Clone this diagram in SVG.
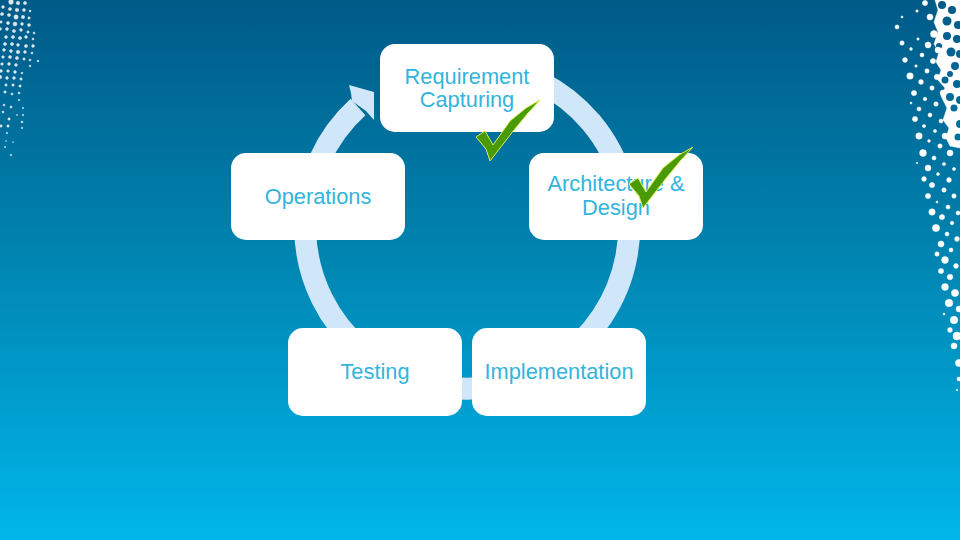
<svg xmlns="http://www.w3.org/2000/svg" width="960" height="540" viewBox="0 0 960 540">
<style>
.box{fill:#fff}
.lbl{font-family:"Liberation Sans",Arial,sans-serif;font-size:21.8px;fill:#33b4dc;text-anchor:middle}
.chk{fill:#4a9a06;stroke:#d8ee50;stroke-width:1}
.d{fill:#fff;stroke:#fff;stroke-width:.5}
.l{fill:#fff;stroke:#fff;stroke-width:.5;opacity:.85}
.h{fill:url(#bgu)}
</style>
<defs>
<linearGradient id="bg" x1="0" y1="0" x2="0" y2="1">
<stop offset="0" stop-color="#005a88"/>
<stop offset=".45" stop-color="#0082ae"/>
<stop offset="1" stop-color="#00b6ea"/>
</linearGradient>
<linearGradient id="bgu" gradientUnits="userSpaceOnUse" x1="0" y1="0" x2="0" y2="540">
<stop offset="0" stop-color="#005a88"/>
<stop offset=".45" stop-color="#0082ae"/>
<stop offset="1" stop-color="#00b6ea"/>
</linearGradient>
<filter id="soft" x="-10%" y="-10%" width="120%" height="120%"><feGaussianBlur stdDeviation=".5"/></filter>
<path id="c" d="M0 37L9 31L17 45L34 21L50 8L64 0L52 13L38 30L14 61L10 49Z"/>
</defs>
<rect width="960" height="540" fill="url(#bg)"/>
<g id="dots-left" filter="url(#soft)">
<circle class="l" cx="11" cy="2" r="2.4"/><circle class="l" cx="18" cy="3" r="1.8"/><circle class="l" cx="25" cy="3" r="1.6"/>
<circle class="l" cx="3" cy="7" r="1.4"/><circle class="l" cx="10" cy="9" r="1.6"/><circle class="l" cx="17" cy="10" r="1.8"/><circle class="l" cx="24" cy="10" r="1.5"/><circle class="l" cx="30" cy="11" r="1"/>
<circle class="l" cx="2" cy="14" r="1.6"/><circle class="l" cx="9" cy="15" r="1.6"/><circle class="l" cx="16" cy="17" r="2.2"/><circle class="l" cx="23" cy="17" r="1.7"/><circle class="l" cx="29" cy="18" r="1.2"/>
<circle class="l" cx="1" cy="22" r="1.2"/><circle class="l" cx="8" cy="23" r="1.6"/><circle class="l" cx="15" cy="24" r="2"/><circle class="l" cx="22" cy="24" r="1.4"/><circle class="l" cx="29" cy="25" r="1.5"/>
<circle class="l" cx="0" cy="29" r="1.4"/><circle class="l" cx="7" cy="29" r="1.5"/><circle class="l" cx="14" cy="31" r="1.6"/><circle class="l" cx="21" cy="30" r="1.4"/><circle class="l" cx="28" cy="32" r="1.2"/><circle class="l" cx="34" cy="33" r="1"/>
<circle class="l" cx="6" cy="37" r="1.5"/><circle class="l" cx="13" cy="37" r="1.6"/><circle class="l" cx="20" cy="38" r="1.6"/><circle class="l" cx="26" cy="37" r="1.4"/><circle class="l" cx="33" cy="39" r="1"/>
<circle class="l" cx="5" cy="44" r="1.6"/><circle class="l" cx="12" cy="44" r="1.6"/><circle class="l" cx="18" cy="45" r="1.4"/><circle class="l" cx="26" cy="46" r="1.6"/><circle class="l" cx="33" cy="46" r="1.4"/>
<circle class="l" cx="4" cy="50" r="1.4"/><circle class="l" cx="11" cy="51" r="1.5"/><circle class="l" cx="18" cy="52" r="1.8"/><circle class="l" cx="25" cy="52" r="1.4"/><circle class="l" cx="32" cy="53" r="1"/>
<circle class="l" cx="3" cy="57" r="1.3"/><circle class="l" cx="10" cy="57" r="1.5"/><circle class="l" cx="17" cy="58" r="1.6"/><circle class="l" cx="24" cy="59" r="1.2"/><circle class="l" cx="30" cy="60" r="1"/><circle class="l" cx="38" cy="61" r=".9"/>
<circle class="l" cx="2" cy="64" r="1.3"/><circle class="l" cx="9" cy="64" r="1.4"/><circle class="l" cx="16" cy="65" r="1.4"/><circle class="l" cx="30" cy="66" r=".9"/>
<circle class="l" cx="1" cy="71" r="1.4"/><circle class="l" cx="8" cy="71" r="1.3"/><circle class="l" cx="15" cy="72" r="1.4"/><circle class="l" cx="22" cy="73" r=".9"/>
<circle class="l" cx="0" cy="77" r="1.8"/><circle class="l" cx="7" cy="78" r="1.4"/><circle class="l" cx="14" cy="78" r="1.4"/><circle class="l" cx="21" cy="79" r="1.2"/>
<circle class="l" cx="6" cy="85" r="1.2"/><circle class="l" cx="13" cy="85" r="1.2"/><circle class="l" cx="20" cy="86" r="1.2"/>
<circle class="l" cx="5" cy="92" r="1.2"/><circle class="l" cx="12" cy="94" r="1.1"/><circle class="l" cx="19" cy="93" r="1"/>
<circle class="l" cx="4" cy="105" r="1"/><circle class="l" cx="11" cy="107" r="1.1"/><circle class="l" cx="19" cy="100" r=".8"/><circle class="l" cx="23" cy="108" r=".7"/>
<circle class="l" cx="3" cy="112" r="1"/><circle class="l" cx="9" cy="119" r="1.2"/><circle class="l" cx="23" cy="115" r=".8"/><circle class="l" cx="17" cy="115" r=".6"/>
<circle class="l" cx="1" cy="126" r="1.2"/><circle class="l" cx="8" cy="126" r="1.2"/><circle class="l" cx="22" cy="122" r="1"/>
<circle class="l" cx="7" cy="133" r=".8"/><circle class="l" cx="22" cy="128" r=".8"/><circle class="l" cx="5" cy="147" r=".7"/><circle class="l" cx="11" cy="155" r=".8"/><circle class="l" cx="6" cy="141" r=".5"/><circle class="l" cx="13" cy="142" r=".5"/>
</g>
<g id="dots-right">
<path class="d" d="M935 0H960V148L950 146L946 138L949 128L943 120L947 108L941 96L945 88L938 80L941 70L936 62L939 52L934 44L938 32L934 22L938 10Z"/>
<circle class="h" cx="942" cy="5" r="4"/><circle class="h" cx="952" cy="10" r="4"/><circle class="h" cx="947" cy="21" r="4.5"/><circle class="h" cx="958" cy="25" r="4"/><circle class="h" cx="947" cy="36" r="4"/><circle class="h" cx="957" cy="39" r="4"/><circle class="h" cx="939" cy="46" r="3"/>
<circle class="h" cx="951" cy="52" r="4.5"/><circle class="h" cx="960" cy="54" r="4"/><circle class="h" cx="955" cy="66" r="4"/><circle class="h" cx="945" cy="80" r="3.5"/><circle class="h" cx="950" cy="74" r="3"/><circle class="h" cx="957" cy="84" r="4"/><circle class="h" cx="950" cy="97" r="4"/><circle class="h" cx="960" cy="100" r="4"/><circle class="h" cx="954" cy="108" r="3.5"/><circle class="h" cx="960" cy="124" r="4"/><circle class="h" cx="958" cy="137" r="3.5"/>
<circle class="d" cx="925" cy="3" r="2.6"/><circle class="d" cx="917" cy="11" r="1.2"/><circle class="d" cx="930" cy="17" r="3"/><circle class="d" cx="902" cy="17" r="1"/><circle class="d" cx="897" cy="27" r="2"/><circle class="d" cx="934" cy="34" r="3.5"/><circle class="d" cx="902" cy="43" r="2.2"/><circle class="d" cx="918" cy="39" r="1.2"/><circle class="d" cx="928" cy="45" r="3"/><circle class="d" cx="911" cy="49" r="1.4"/><circle class="d" cx="938" cy="50" r="3"/><circle class="d" cx="922" cy="55" r="2"/><circle class="d" cx="905" cy="60" r="2.4"/><circle class="d" cx="933" cy="61" r="2.6"/><circle class="d" cx="916" cy="66" r="1.2"/><circle class="d" cx="927" cy="71" r="2.2"/><circle class="d" cx="910" cy="76" r="3.2"/><circle class="d" cx="937" cy="77" r="2.8"/><circle class="d" cx="921" cy="82" r="2.4"/><circle class="d" cx="932" cy="88" r="2.2"/><circle class="d" cx="914" cy="93" r="2.6"/><circle class="d" cx="943" cy="93" r="3"/><circle class="d" cx="925" cy="99" r="1.8"/><circle class="d" cx="911" cy="103" r="1"/><circle class="d" cx="936" cy="104" r="2.2"/><circle class="d" cx="919" cy="109" r="2"/><circle class="d" cx="930" cy="115" r="2"/><circle class="d" cx="915" cy="119" r="2.6"/><circle class="d" cx="941" cy="121" r="2"/><circle class="d" cx="924" cy="126" r="1.6"/><circle class="d" cx="935" cy="131" r="1.6"/><circle class="d" cx="919" cy="136" r="3.2"/><circle class="d" cx="945" cy="136" r="3"/><circle class="d" cx="929" cy="141" r="1.4"/><circle class="d" cx="940" cy="146" r="2.2"/><circle class="d" cx="923" cy="153" r="3.4"/><circle class="d" cx="950" cy="153" r="3"/><circle class="d" cx="934" cy="158" r="2"/><circle class="d" cx="944" cy="164" r="1.6"/><circle class="d" cx="917" cy="163" r=".8"/><circle class="d" cx="928" cy="168" r="3"/><circle class="d" cx="954" cy="169" r="1.6"/><circle class="d" cx="938" cy="174" r="1.5"/><circle class="d" cx="949" cy="180" r="2.4"/><circle class="d" cx="924" cy="179" r="2.4"/><circle class="d" cx="932" cy="185" r="2.6"/><circle class="d" cx="944" cy="190" r="2.2"/><circle class="d" cx="954" cy="196" r="2.2"/><circle class="d" cx="928" cy="196" r="2.6"/>
<circle class="d" cx="937" cy="202" r="1"/><circle class="d" cx="948" cy="207" r="2"/><circle class="d" cx="932" cy="212" r="3.2"/><circle class="d" cx="942" cy="217" r="2.6"/><circle class="d" cx="958" cy="213" r="2"/><circle class="d" cx="952" cy="223" r="1.8"/><circle class="d" cx="936" cy="228" r="3.6"/><circle class="d" cx="947" cy="234" r="2"/><circle class="d" cx="957" cy="239" r="2.4"/><circle class="d" cx="941" cy="244" r="3"/><circle class="d" cx="951" cy="250" r="2"/><circle class="d" cx="937" cy="254" r="2.2"/><circle class="d" cx="945" cy="260" r="3.4"/><circle class="d" cx="956" cy="266" r="2.4"/><circle class="d" cx="941" cy="271" r="2.6"/><circle class="d" cx="950" cy="277" r="2.8"/><circle class="d" cx="945" cy="287" r="3.4"/><circle class="d" cx="955" cy="293" r="3.6"/><circle class="d" cx="949" cy="303" r="3.8"/><circle class="d" cx="959" cy="309" r="3"/><circle class="d" cx="944" cy="314" r="1"/><circle class="d" cx="954" cy="320" r="3.8"/><circle class="d" cx="950" cy="330" r="2.4"/><circle class="d" cx="957" cy="336" r="4"/><circle class="d" cx="954" cy="346" r="3"/><circle class="d" cx="959" cy="363" r="3.6"/><circle class="d" cx="959" cy="379" r="2"/><circle class="d" cx="957" cy="390" r=".8"/>
</g>
<g id="connectors">
<path d="M540 82A162 162 0 1 1 358 107" fill="none" stroke="#cfe7f8" stroke-width="22"/>
<path d="M349 85L374 92L374 120L366 111L352 101L351 93Z" fill="#cfe7f8"/>
</g>
<g id="node-requirement"><rect class="box" x="380" y="44" width="174" height="88" rx="15"/><text class="lbl" x="467" y="83.500">Requirement</text><text class="lbl" x="467" y="107">Capturing</text></g>
<g id="node-architecture"><rect class="box" x="529" y="153" width="174" height="87" rx="15"/><text class="lbl" x="616" y="191">Architecture &amp;</text><text class="lbl" x="616" y="215">Design</text></g>
<g id="node-implementation"><rect class="box" x="472" y="328" width="174" height="88" rx="15"/><text class="lbl" x="559" y="379">Implementation</text></g>
<g id="node-testing"><rect class="box" x="288" y="328" width="174" height="88" rx="15"/><text class="lbl" x="375" y="379">Testing</text></g>
<g id="node-operations"><rect class="box" x="231" y="153" width="174" height="87" rx="15"/><text class="lbl" x="318" y="204">Operations</text></g>
<use href="#c" class="chk" x="476" y="100"/>
<use href="#c" class="chk" x="629" y="147"/>
</svg>
